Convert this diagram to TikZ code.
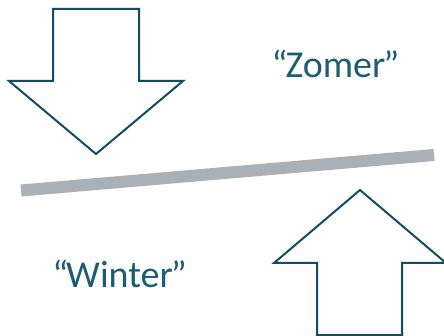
\documentclass[tikz,border=0pt]{standalone}
\usepackage{fontspec}
\setmainfont{Carlito}
\usepackage{tikz}
\definecolor{arrowblue}{RGB}{19,75,95}
\definecolor{textblue}{RGB}{27,94,115}
\definecolor{bargray}{RGB}{169,177,183}

\begin{document}
\begin{tikzpicture}[x=1pt, y=-1pt,
		arrow_style/.style={draw=arrowblue,line width=2pt,fill=white,line join=miter},
		bar_style/.style={draw=bargray,line width=12pt},
		label_style/.style={text=textblue,font=\fontsize{38}{46}\selectfont,anchor=base,inner sep=0pt}]
		\useasboundingbox (0,0) rectangle (444,336);
		% downward arrow
		\draw[arrow_style] (53,9) -- (139,9) -- (139,81) -- (183,81) -- (96,154) -- (9,81) -- (53,81) -- cycle;
		% upward arrow
		\draw[arrow_style] (360,190) -- (446,263) -- (402,263) -- (402,335) -- (317,335) -- (317,263) -- (274,263) -- cycle;
		% tilted bar
		\coordinate (barleft) at (21,190.5);
		\coordinate (barright) at (434,155);
		\draw[bar_style] (barleft) -- (barright);
		\node[label_style] (zomer) at (335.5,78) {“\kern-2pt Zomer\kern-2pt”};
		\node[label_style] (winter) at (119.5,288) {“\kern-2pt Winter\kern-2pt”};
\end{tikzpicture}
\end{document}
